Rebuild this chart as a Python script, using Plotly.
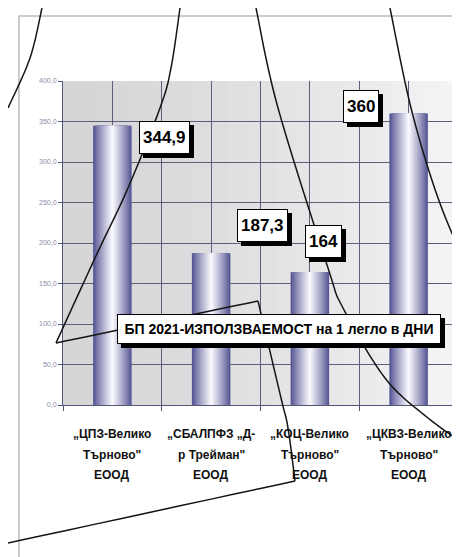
import plotly.graph_objects as go

# ---- data ----
categories = [
    '„ЦПЗ-Велико<br>Търново"<br>ЕООД',
    '„СБАЛПФЗ „Д-<br>р Трейман"<br>ЕООД',
    '„КОЦ-Велико<br>Търново"<br>ЕООД',
    '„ЦКВЗ-Велико<br>Търново"<br>ЕООД',
]
values = [344.9, 187.3, 164, 360]
value_labels = ['344,9', '187,3', '164', '360']
y_tick_values = [0, 50, 100, 150, 200, 250, 300, 350, 400]
y_tick_labels = ['0,0', '50,0', '100,0', '150,0', '200,0', '250,0', '300,0', '350,0', '400,0']
title_text = 'БП 2021-ИЗПОЛЗВАЕМОСТ на 1 легло в ДНИ'

# ---- layout geometry (pixels) ----
W, H = 460, 557
L, R, T, B = 55, 450, 73, 397

def pp(x, y):
    return ((x - L) / (R - L), (B - y) / (B - T))

FONT = 'Liberation Sans, Arial, sans-serif'
GRID = '#5e5e78'

fig = go.Figure()

# gradient bars: nested overlaid bars, dark edges -> light center
edge = (86, 86, 148)
center = (246, 246, 252)
N = 14
full_w = 0.39
for i in range(N):
    f = i / (N - 1)
    g = f ** 0.9
    c = tuple(int(edge[k] + (center[k] - edge[k]) * g) for k in range(3))
    w = full_w * (1 - i / N)
    fig.add_trace(go.Bar(
        x=categories, y=values, width=w,
        marker=dict(color='rgb(%d,%d,%d)' % c, line=dict(width=0)),
        hoverinfo='skip', showlegend=False,
    ))

# invisible trace for second x axis (center grid lines)
fig.add_trace(go.Scatter(x=[0], y=[0], xaxis='x2', mode='markers',
                         marker=dict(opacity=0), showlegend=False, hoverinfo='skip'))

fig.update_layout(
    width=W, height=H,
    margin=dict(l=L, r=W - R, t=T, b=H - B, autoexpand=False),
    barmode='overlay',
    paper_bgcolor='white',
    plot_bgcolor='#e4e4e6',
    font=dict(family=FONT),
    xaxis=dict(
        type='category', categoryorder='array', categoryarray=categories,
        tickson='boundaries', ticks='outside', ticklen=5, tickcolor='#55557a',
        showgrid=True, gridcolor=GRID, gridwidth=1,
        showline=True, linecolor='#55557a', linewidth=1,
        showticklabels=False, automargin=False,
        range=[-0.5, 3.5],
    ),
    xaxis2=dict(
        overlaying='x', range=[-0.5, 3.5], tick0=0, dtick=1,
        showgrid=True, gridcolor=GRID, gridwidth=1,
        showticklabels=False, zeroline=False, ticks='', showline=False,
        automargin=False,
    ),
    yaxis=dict(
        range=[0, 400], tickvals=y_tick_values, ticktext=y_tick_labels,
        ticks='outside', ticklen=4, tickcolor='#55557a',
        showgrid=True, gridcolor=GRID, gridwidth=1,
        showline=True, linecolor='#55557a', linewidth=1,
        tickfont=dict(size=7, color='#8a8aa8'),
        zeroline=False, automargin=False,
    ),
)

# plot-area background shading (darker left, lighter right)
NS = 24
for i in range(NS):
    f = i / (NS - 1)
    v = int(214 + (244 - 214) * f ** 1.3)
    fig.add_shape(type='rect', xref='paper', yref='paper',
                  x0=i / NS, x1=(i + 1) / NS + 0.002, y0=0, y1=1,
                  fillcolor='rgb(%d,%d,%d)' % (v, v, v + 2), line=dict(width=0), layer='below')

# category labels, one line at a time for spacing
for cat in categories:
    for j, line in enumerate(cat.split('<br>')):
        fig.add_annotation(x=cat, y=0, yref='y', text=line, showarrow=False,
                           yanchor='middle', yshift=-(29 + 20.5 * j),
                           font=dict(family=FONT, size=12, color='#111111', weight='bold'))

# value labels with drop shadow
offsets = [(52, -12), (51, 28), (14, 31), (-48, 7)]
for cat, v, lab, (dx, dy) in zip(categories, values, value_labels, offsets):
    for sh, bg in ((4, 'black'), (0, 'white')):
        fig.add_annotation(x=cat, y=v, text=lab, showarrow=False,
                           xshift=dx + sh, yshift=dy - sh, height=25,
                           font=dict(family=FONT, size=17, color='black', weight='bold'),
                           bgcolor=bg, bordercolor='black', borderwidth=1, borderpad=3)

# title box with drop shadow
tx, ty = pp(271, 336)
for sh, bg in ((4, 'black'), (0, 'white')):
    fig.add_annotation(xref='paper', yref='paper', x=tx, y=ty, text=title_text, showarrow=False,
                       xshift=sh, yshift=-sh, width=318, height=24,
                       font=dict(family=FONT, size=14, color='black', weight='bold'),
                       bgcolor=bg, bordercolor='black', borderwidth=1, borderpad=2)

# outer chart frame
x0, y0 = pp(11, 8)
x1, y1 = pp(455, 555)
fig.add_shape(type='rect', xref='paper', yref='paper', x0=x0, y0=y1, x1=x1, y1=y0,
              line=dict(color='#bcbcbc', width=1.5), layer='below')

# overlaid black pen strokes present in the picture
def smooth_path(pts, steps=12):
    out = []
    n = len(pts)
    for i in range(n - 1):
        p0 = pts[i - 1] if i > 0 else pts[i]
        p1 = pts[i]
        p2 = pts[i + 1]
        p3 = pts[i + 2] if i + 2 < n else pts[i + 1]
        for s in range(steps):
            t = s / steps
            t2, t3 = t * t, t * t * t
            x = 0.5 * ((2 * p1[0]) + (-p0[0] + p2[0]) * t + (2 * p0[0] - 5 * p1[0] + 4 * p2[0] - p3[0]) * t2 + (-p0[0] + 3 * p1[0] - 3 * p2[0] + p3[0]) * t3)
            y = 0.5 * ((2 * p1[1]) + (-p0[1] + p2[1]) * t + (2 * p0[1] - 5 * p1[1] + 4 * p2[1] - p3[1]) * t2 + (-p0[1] + 3 * p1[1] - 3 * p2[1] + p3[1]) * t3)
            out.append((x, y))
    out.append(pts[-1])
    d = ''
    for j, (x, y) in enumerate(out):
        px, py = pp(x, y)
        d += ('M' if j == 0 else 'L') + '%.4f,%.4f ' % (px, py)
    return d

strokes = [
    [(34, 0), (22, 50), (0, 100)],
    [(172, 0), (163, 60), (152, 100), (120, 180), (87, 250), (48, 335)],
    [(48, 335), (250, 293)],
    [(250, 293), (273, 390), (280, 420), (287, 473)],
    [(287, 473), (0, 535)],
    [(248, 0), (270, 100), (320, 260), (335, 300), (377, 370), (420, 410), (462, 440)],
    [(382, 0), (403, 100), (430, 190), (460, 262)],
]
for s in strokes:
    fig.add_shape(type='path', xref='paper', yref='paper', path=smooth_path(s),
                  line=dict(color='#151515', width=1.5), layer='above')

fig.write_html('out.html')
